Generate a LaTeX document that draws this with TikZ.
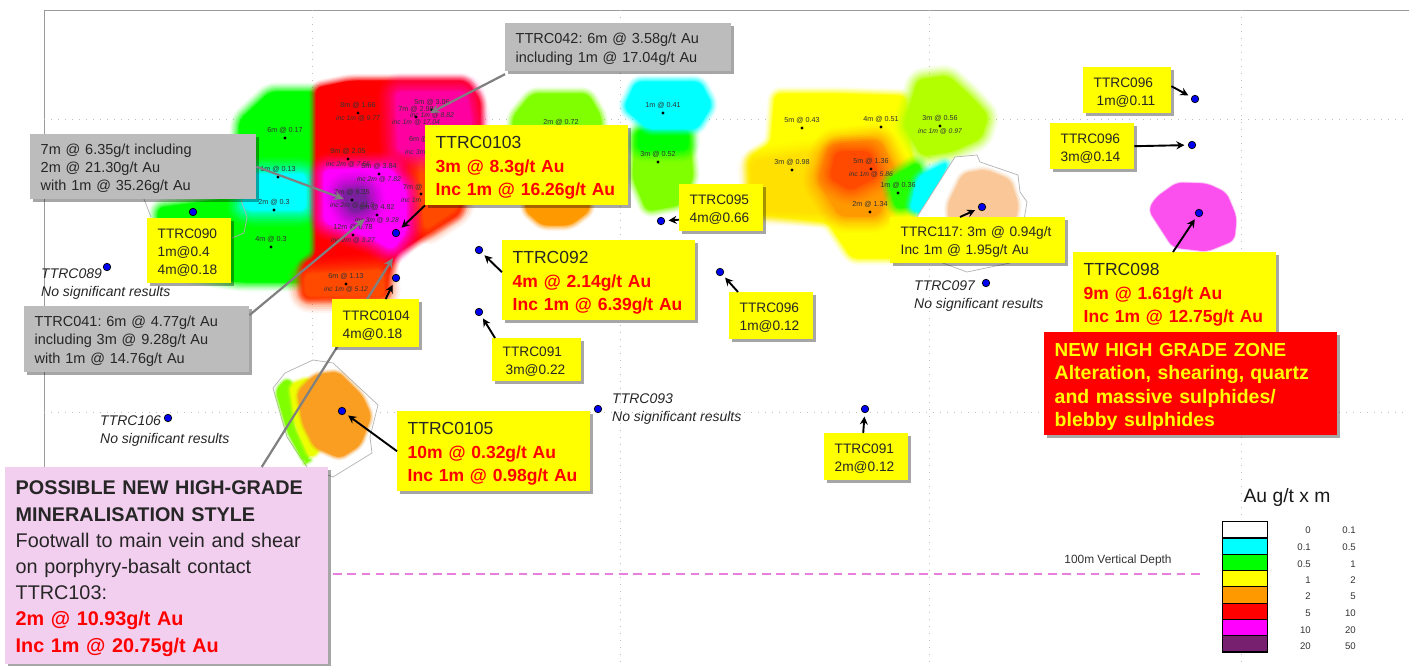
\documentclass[tikz,border=0pt]{standalone}
\usepackage{fontspec}
\setmainfont{Liberation Sans}
\newfontfamily\boxfont{Liberation Sans}
\usetikzlibrary{arrows.meta,shadows}
\definecolor{cyan}{HTML}{00FFFF}
\definecolor{magenta}{HTML}{FF00FF}
\definecolor{yellow}{HTML}{FFFF00}
\definecolor{green}{HTML}{00FF00}
\definecolor{red}{HTML}{FF0000}
\definecolor{hgrey}{HTML}{BFBFBF}
\definecolor{bluedot}{HTML}{0000F0}
\definecolor{lblgrey}{HTML}{BCBCBC}
\definecolor{conngrey}{HTML}{808080}
\definecolor{pinkbox}{HTML}{F2CEEF}
\definecolor{limeg}{HTML}{80FF00}
\definecolor{orangeb}{HTML}{FF9900}
\definecolor{redor}{HTML}{FF4A00}
\definecolor{deeppink}{HTML}{FF00A0}
\definecolor{purplec}{HTML}{7A1F9E}
\definecolor{peach}{HTML}{FAC898}
\definecolor{orangeblob}{HTML}{FA9E22}
\definecolor{magblob}{HTML}{FB50EE}
\definecolor{legpurple}{HTML}{772070}
\definecolor{pinkdash}{HTML}{E87FDC}
\tikzset{
  x=1pt,y=-1pt,
  boxbase/.style={align=left,inner ysep=0pt,inner xsep=10.5pt,font=\boxfont,text=black!85,
     drop shadow={shadow xshift=3pt,shadow yshift=-3pt,opacity=.35,fill=black}},
  small/.style={font=\boxfont\fontsize{13.7}{18.2}\selectfont},
  large/.style={font=\boxfont\fontsize{17.5}{23.3}\selectfont},
  ybox/.style={boxbase,fill=yellow,small},
  yboxl/.style={boxbase,fill=yellow,large},
  gbox/.style={boxbase,fill=lblgrey,font=\boxfont\fontsize{14.5}{18.2}\selectfont},
  rbox/.style={boxbase,fill=red,text=yellow,font=\boxfont\bfseries\fontsize{19.5}{23.2}\selectfont},
  pbox/.style={boxbase,fill=pinkbox,inner xsep=10pt,font=\boxfont\fontsize{19.8}{26.2}\selectfont},
  bore/.style={circle,fill=bluedot,draw=black,line width=.7pt,minimum size=7.5pt,inner sep=0pt},
  hole/.style={circle,fill=black,minimum size=3.2pt,inner sep=0pt},
  holetext/.style={font=\fontsize{7.2}{8}\selectfont,text=black!80,inner sep=0pt},
  incstyle/.style={font=\itshape\fontsize{6.8}{8}\selectfont,text=black!80,inner sep=0pt},
  notetext/.style={font=\boxfont\itshape\fontsize{14}{17.7}\selectfont,align=left,anchor=north west,inner sep=0pt,text=black!85},
  arrline/.style={black,line width=1.9pt,-{Stealth[length=8pt,width=8pt]},shorten >=3.5pt},
  greyline/.style={conngrey,line width=2.2pt,-{Stealth[length=10pt,width=9pt]}},
  gridl/.style={hgrey,line width=.9pt,dash pattern=on 1pt off 6pt},
  outl/.style={black!30,line width=.7pt},
  legcell/.style={draw=black,line width=1.2pt,minimum width=45pt,minimum height=16.3pt,inner sep=0pt,anchor=north west},
  legnum/.style={font=\fontsize{9.6}{10}\selectfont,anchor=east,inner sep=0pt,text=black!80},
}
\newcommand\blob[3][14]{%
  \foreach \ww/\oo in {1/.06,.88/.08,.76/.1,.64/.13,.52/.16,.4/.2,.28/.28,.16/.4,.06/.6,0/1}{%
    \pgfmathsetmacro\lw{\ww*#1*2.4+.01}%
    \draw[draw=#2,fill=#2,line join=round,rounded corners=6pt,opacity=\oo,line width=\lw pt] #3 -- cycle;}%
}
\newcommand\tbox[7]{%
  \pgfmathsetmacro\bw{#5-#3}\pgfmathsetmacro\bh{#6-#4}%
  \pgfmathsetmacro\tw{#5-#3-21}%
  \node[#2,anchor=north west,minimum width=\bw pt,minimum height=\bh pt,text width=\tw pt] (#1) at (#3,#4) {\rule{0pt}{1em}#7};}
\newcommand\drill[5]{% name x y text inc
  \node[hole] (#1) at (#2,#3) {};
  \node[holetext,above=4pt] (#1t) at (#1) {#4};
  \if\relax\detokenize{#5}\relax\else\node[incstyle,below=2.8pt] (#1i) at (#1) {#5};\fi}
\newcommand\rd[1]{\textcolor{red}{\bfseries #1}}
\begin{document}
\frenchspacing
\begin{tikzpicture}
\useasboundingbox (0,0) rectangle (1409,666);
\fill[white] (0,0) rectangle (1409,666);
% grid
\draw[conngrey!80,line width=.9pt] (1409,10.5) -- (44.5,10.5) -- (44.5,467);
\foreach \yy in {119,412} \draw[gridl] (44,\yy) -- (1409,\yy);
\foreach \xx in {312,620,929,1241} \draw[gridl] (\xx,10) -- (\xx,666);
% left cluster
\blob[8]{green}{(240,120) -- (270,92) -- (316,92) -- (316,282) -- (240,282) -- (172,272) -- (158,235) -- (158,208) -- (232,198) -- (238,150)}
\blob[14]{cyan}{(254,174) -- (306,174) -- (306,210) -- (248,210) -- (242,205)}
\blob[6]{red}{(316,88) -- (350,81) -- (466,81) -- (480,100) -- (480,132) -- (462,172) -- (460,213) -- (423,236) -- (396,254) -- (388,275) -- (386,296) -- (304,298) -- (302,266) -- (316,256)}
\blob[14]{redor}{(420,132) -- (460,132) -- (458,208) -- (425,230) -- (420,190)}
\blob[14]{redor}{(305,274) -- (383,270) -- (384,296) -- (305,296)}
\blob[16]{deeppink}{(396,92) -- (466,92) -- (472,125) -- (442,156) -- (398,152)}
\blob[14]{magenta}{(324,170) -- (390,168) -- (406,190) -- (406,232) -- (392,250) -- (372,238) -- (324,222)}
\blob[16]{purplec}{(342,192) -- (364,189) -- (368,208) -- (352,213)}
% middle
\blob[6]{limeg}{(532,94) -- (588,94) -- (601,117) -- (601,168) -- (590,193) -- (530,193) -- (513,168) -- (513,117)}
\blob[5]{orangeb}{(527,198) -- (588,198) -- (590,210) -- (570,225) -- (542,225) -- (525,210)}
\blob[6]{limeg}{(635,132) -- (689,132) -- (693,178) -- (680,205) -- (647,211) -- (633,178)}
\blob[10]{green}{(638,130) -- (688,130) -- (688,150) -- (638,150)}
\blob[6]{cyan}{(636,82) -- (700,82) -- (712,105) -- (697,129) -- (648,129) -- (624,108)}
% right cluster
\blob[6]{yellow}{(775,94) -- (840,94) -- (905,96) -- (910,150) -- (922,190) -- (903,258) -- (852,258) -- (828,222) -- (751,213) -- (749,158) -- (771,143)}
\blob[12]{yellow!70!orangeb}{(752,162) -- (820,152) -- (830,213) -- (754,211)}
\blob[14]{orangeb}{(830,145) -- (880,140) -- (896,172) -- (878,216) -- (840,216) -- (818,180)}
\blob[14]{redor}{(836,152) -- (870,152) -- (878,176) -- (850,190) -- (830,178)}
\blob[10]{limeg!60!yellow}{(918,80) -- (948,76) -- (972,98) -- (988,116) -- (981,138) -- (953,151) -- (922,156) -- (904,125) -- (908,112)}
\blob[8]{green!85!yellow}{(888,180) -- (918,162) -- (932,203) -- (896,209)}
\blob[6]{cyan}{(918,177) -- (948,162) -- (925,213) -- (910,210)}
\fill[white] (917,217) -- (955,157) -- (977,155) -- (980,162) -- (1018,175) -- (1020,192) -- (1027,202) -- (1024,220) -- (1010,263) -- (967,272) -- (940,262) -- cycle;
\blob[4]{peach}{(948,205) -- (963,174) -- (985,170) -- (1010,180) -- (1018,205) -- (1010,248) -- (952,248)}
\draw[outl] (917,217) -- (955,157) -- (977,155) -- (980,162) -- (1018,175) -- (1020,192) -- (1027,202) -- (1024,220) -- (1010,263) -- (967,272) -- (940,262) -- cycle;
% magenta blob right
\blob[1.5]{magblob}{(1149,210) -- (1156,198) -- (1177,183) -- (1207,184) -- (1226,193) -- (1236,217) -- (1234,240) -- (1207,251) -- (1173,247)}
% lower left blob
\fill[white] (273,388) -- (285,373) -- (313,360) -- (333,363) -- (362,390) -- (378,405) -- (370,437) -- (372,453) -- (333,477) -- (307,467) -- (287,437) -- cycle;
\draw[outl] (273,388) -- (285,373) -- (313,360) -- (333,363) -- (362,390) -- (378,405) -- (370,437) -- (372,453) -- (333,477) -- (307,467) -- (287,437) -- cycle;
\blob[3]{limeg}{(276,390) -- (288,378) -- (295,390) -- (293,425) -- (310,460) -- (305,463) -- (288,432)}
\blob[3.5]{yellow!85!limeg}{(290,385) -- (310,378) -- (320,450) -- (310,458) -- (296,425)}
\blob[3.5]{orangeblob}{(298,392) -- (315,375) -- (338,372) -- (362,396) -- (371,416) -- (360,445) -- (340,458) -- (315,447) -- (303,423)}
\draw[outl] (144,199) -- (151,217);
\draw[outl] (241,200) -- (247,217) -- (244,233) -- (232,238);
% drill hole annotations
\drill{h1}{358}{113}{8m @ 1.66}{inc 1m @ 9.77}
\drill{h2}{432}{110}{5m @ 3.06}{inc 1m @ 8.82}
\drill{h3}{416}{117}{7m @ 2.98}{inc 1m @ 17.04}
\node[holetext,anchor=west] (h4t) at (409,139) {6m @};
\node[incstyle,anchor=west] (h4i) at (405,152) {inc 3m};
\node[holetext,anchor=west] (h5t) at (403,187) {7m @};
\node[hole] (h5) at (421,194) {};
\node[incstyle,anchor=west] (h5i) at (401,200) {inc 1m};
\drill{h6}{285}{138}{6m @ 0.17}{}
\drill{h7}{278}{177}{1m @ 0.13}{}
\drill{h8}{274}{210}{2m @ 0.3}{}
\drill{h9}{271}{247}{4m @ 0.3}{}
\drill{h10}{348}{159}{9m @ 2.05}{inc 2m @ 7.66}
\drill{h11}{379}{174}{5m @ 3.84}{inc 2m @ 7.82}
\drill{h12}{352}{200}{7m @ 6.35}{inc 2m @ 21.3}
\drill{h13}{377}{215}{6m @ 4.82}{inc 3m @ 9.28}
\drill{h14}{353}{235}{12m @ 0.78}{inc 2m @ 3.27}
\drill{h15}{346}{284}{6m @ 1.13}{inc 1m @ 5.12}
\node[holetext] (h16t) at (561,122) {2m @ 0.72};
\drill{h17}{663}{113}{1m @ 0.41}{}
\drill{h18}{658}{162}{3m @ 0.52}{}
\drill{h19}{802}{128}{5m @ 0.43}{}
\drill{h20}{881}{127}{4m @ 0.51}{}
\drill{h21}{940}{126}{3m @ 0.56}{inc 1m @ 0.97}
\drill{h22}{792}{170}{3m @ 0.98}{}
\drill{h23}{871}{169}{5m @ 1.36}{inc 1m @ 5.86}
\drill{h24}{898}{193}{1m @ 0.36}{}
\drill{h25}{870}{212}{2m @ 1.34}{}
% depth line
\coordinate (depthA) at (333,574);
\coordinate (depthB) at (1204,574);
\draw[pinkdash,line width=1.9pt,dash pattern=on 8.5pt off 5.8pt] (depthA) -- (depthB);
\node[font=\boxfont\fontsize{11.9}{12}\selectfont,text=black!80,inner sep=0pt] (depthlabel) at (1118,560) {100m Vertical Depth};
% bores
\node[bore] (d090) at (193,212) {};
\node[bore] (d103) at (396,233) {};
\node[bore] (d104) at (396,278) {};
\node[bore] (d092) at (479,250) {};
\node[bore] (d091a) at (479,312) {};
\node[bore] (d095) at (661,221) {};
\node[bore] (d096c) at (720,272) {};
\node[bore] (d105) at (342,411) {};
\node[bore] (d091b) at (865,409) {};
\node[bore] (d117) at (982,207) {};
\node[bore] (d096a) at (1195,99) {};
\node[bore] (d096b) at (1192,145) {};
\node[bore] (d098) at (1199,213) {};
\node[bore] (d089) at (107,267) {};
\node[bore] (d106) at (168,418) {};
\node[bore] (d093) at (598,409) {};
\node[bore] (d097) at (986,283) {};
% grey targets
\coordinate (t042) at (430,113);
\coordinate (tleft) at (344,199);
\coordinate (t041) at (365,219);
\coordinate (tpink) at (393,258);
% boxes
\tbox{b096c}{ybox}{729}{292}{813}{339}{TTRC096\\1m@0.12}
\tbox{b041}{gbox}{24}{306}{249}{372}{TTRC041: 6m @ 4.77g/t Au\\including 3m @ 9.28g/t Au\\with 1m @ 14.76g/t Au}
\tbox{bleft}{gbox}{30}{134}{256}{199}{7m @ 6.35g/t including\\2m @ 21.30g/t Au\\with 1m @ 35.26g/t Au}
\tbox{b042}{gbox}{505}{23}{731}{71}{TTRC042: 6m @ 3.58g/t Au\\including 1m @ 17.04g/t Au}
\tbox{bpink}{pbox}{5}{467}{328}{664}{\textbf{POSSIBLE NEW HIGH-GRADE}\\\textbf{MINERALISATION STYLE}\\\mbox{Footwall to main vein and shear}\\on porphyry-basalt contact\\TTRC103:\\\rd{2m @ 10.93g/t Au}\\\rd{Inc 1m @ 20.75g/t Au}}
% grey connectors
\draw[greyline] ([yshift=-27pt]b042.west) -- (t042);
\draw[greyline] (bleft.east) -- (tleft);
\draw[greyline] ([yshift=24pt]b041.east) -- (t041);
\draw[greyline] ([xshift=95pt]bpink.north) -- (tpink);
% yellow boxes
\tbox{b103}{yboxl}{425}{125}{628}{205}{TTRC0103\\\rd{3m @ 8.3g/t Au}\\\rd{Inc 1m @ 16.26g/t Au}}
\tbox{b090}{ybox}{147}{218}{231}{283}{TTRC090\\1m@0.4\\4m@0.18}
\tbox{b104}{ybox}{332}{299}{419}{347}{TTRC0104\\4m@0.18}
\tbox{b092}{yboxl}{502}{240}{695}{320}{TTRC092\\\rd{4m @ 2.14g/t Au}\\\rd{Inc 1m @ 6.39g/t Au}}
\tbox{b095}{ybox}{679}{184}{763}{231}{TTRC095\\4m@0.66}
\tbox{b091a}{ybox}{492}{338}{581}{381}{TTRC091\\\hspace*{3pt}3m@0.22}
\tbox{b105}{yboxl}{397}{411}{590}{491}{TTRC0105\\\rd{10m @ 0.32g/t Au}\\\rd{Inc 1m @ 0.98g/t Au}}
\tbox{b091b}{ybox}{824}{433}{908}{480}{TTRC091\\2m@0.12}
\tbox{b117}{ybox}{890}{217}{1065}{263}{\mbox{TTRC117: 3m @ 0.94g/t}\\Inc 1m @ 1.95g/t Au}
\tbox{b096a}{ybox}{1083}{67}{1171}{113}{TTRC096\\\hspace*{3pt}1m@0.11}
\tbox{b096b}{ybox}{1050}{123}{1134}{169}{TTRC096\\3m@0.14}
\tbox{b098}{yboxl}{1073}{252}{1276}{332}{TTRC098\\\rd{9m @ 1.61g/t Au}\\\rd{Inc 1m @ 12.75g/t Au}}
\tbox{bred}{rbox}{1044}{332}{1337}{435}{{\fontsize{18.9}{23.2}\selectfont NEW HIGH GRADE ZONE}\\\mbox{Alteration, shearing,\hspace{6pt}quartz}\\and massive sulphides/\\blebby sulphides}
% black connectors
\draw[arrline] (b103.south west) -- (d103);
\draw[arrline] ([xshift=10pt]b104.north) -- (d104);
\draw[arrline] ([yshift=8pt]b092.west) -- (d092);
\draw[arrline] ([xshift=3pt]b091a.north west) -- (d091a);
\draw[arrline] ([yshift=-12pt]b095.west) -- (d095);
\draw[arrline] ([xshift=9pt]b096c.north west) -- (d096c);
\draw[arrline] (b105.west) -- (d105);
\draw[arrline] ([xshift=-3pt]b091b.north) -- (d091b);
\draw[arrline] ([xshift=70pt]b117.north west) -- (d117);
\draw[arrline] ([yshift=4pt]b096a.east) -- (d096a);
\draw[arrline] (b096b.east) -- (d096b);
\draw[arrline] ([xshift=100pt]b098.north west) -- (d098);
% notes
\node[notetext] (n089) at (41,268.5) {TTRC089\\No significant results};
\node[notetext] (n106) at (100,416) {TTRC106\\No significant results};
\node[notetext] (n093) at (612,394) {TTRC093\\No significant results};
\node[notetext] (n097) at (914,281) {TTRC097\\No significant results};
% legend
\node[font=\fontsize{19.3}{20}\selectfont,inner sep=0pt,text=black!90] (legtitle) at (1287,498) {Au g/t x m};
\foreach \nm/\col/\yy in {a/white/521,b/cyan/537.3,c/green/553.6,d/yellow/569.9,e/orangeb/586.2,f/red/602.5,g/magenta/618.8,h/legpurple/635.1}
  \node[legcell,fill=\col] (leg\nm) at (1222,\yy) {};
\foreach \nm/\aa/\bb/\yy in {a/0/0.1/530,b/0.1/0.5/547.5,c/0.5/1/564,d/1/2/580,e/2/5/596,f/5/10/613,g/10/20/630,h/20/50/646}{
  \node[legnum] (la\nm) at (1311,\yy) {\aa};
  \node[legnum] (lb\nm) at (1356,\yy) {\bb};}
\end{tikzpicture}
\end{document}
